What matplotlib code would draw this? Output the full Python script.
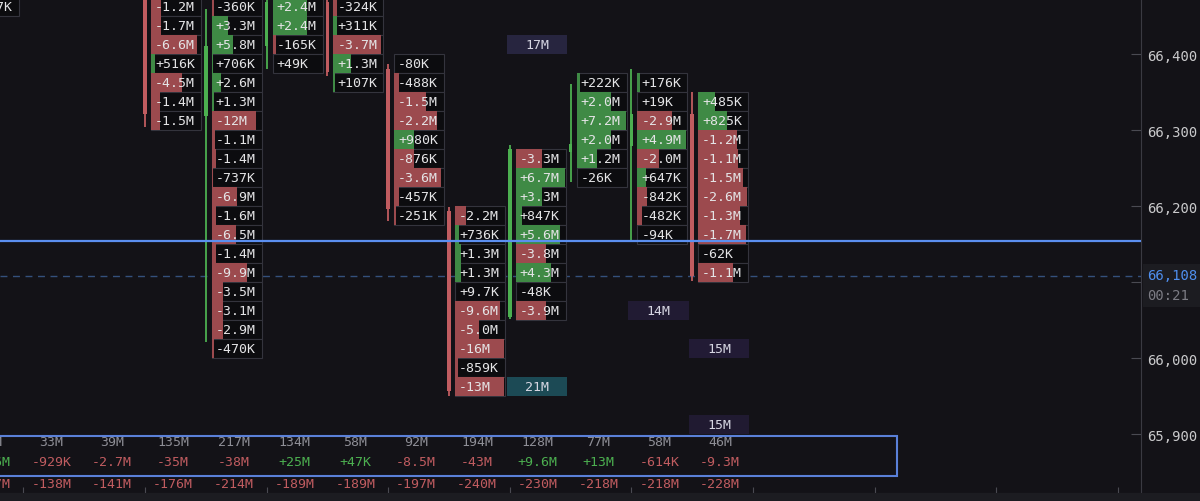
import matplotlib
matplotlib.use("Agg")
import matplotlib.pyplot as plt
from matplotlib.patches import Rectangle
from matplotlib.transforms import blended_transform_factory
import numpy as np

# ---------------- data ----------------
summary_cols = [-1, 0, 1, 2, 3, 4, 5, 6, 7, 8, 9, 10, 11]
col_volume = ["41M", "33M", "39M", "135M", "217M", "134M", "58M", "92M", "194M", "128M", "77M", "58M", "46M"]
col_delta = ["+4.6M", "-929K", "-2.7M", "-35M", "-38M", "+25M", "+47K", "-8.5M", "-43M", "+9.6M", "+13M", "-614K", "-9.3M"]
col_cum = ["-137M", "-138M", "-141M", "-176M", "-214M", "-189M", "-189M", "-197M", "-240M", "-230M", "-218M", "-218M", "-228M"]

candle_cols = [2, 3, 4, 5, 6, 7, 8, 9, 10, 11]
opens = [66500, 66318, 66410, 66468, 66380, 66193, 66054, 66271, 66279, 66321]
highs = [66510, 66459, 66480, 66476, 66387, 66199, 66280, 66360, 66380, 66350]
lows = [66304, 66021, 66380, 66371, 66180, 65950, 66051, 66232, 66153, 66101]
closes = [66321, 66410, 66468, 66376, 66196, 65957, 66275, 66282, 66321, 66108]

cell_cols = [-1, 2, 3, 4, 5, 6, 7, 8, 9, 10, 11]
cell_top = [66462.5, 66462.5, 66462.5, 66462.5, 66462.5, 66387.5, 66187.5, 66262.5, 66362.5, 66362.5, 66337.5]
cell_labels = [
    ["-157K"],
    ["-1.2M", "-1.7M", "-6.6M", "+516K", "-4.5M", "-1.4M", "-1.5M"],
    ["-360K", "+3.3M", "+5.8M", "+706K", "+2.6M", "+1.3M", "-12M", "-1.1M", "-1.4M", "-737K",
     "-6.9M", "-1.6M", "-6.5M", "-1.4M", "-9.9M", "-3.5M", "-3.1M", "-2.9M", "-470K"],
    ["+2.4M", "+2.4M", "-165K", "+49K"],
    ["-324K", "+311K", "-3.7M", "+1.3M", "+107K"],
    ["-80K", "-488K", "-1.5M", "-2.2M", "+980K", "-876K", "-3.6M", "-457K", "-251K"],
    ["-2.2M", "+736K", "+1.3M", "+1.3M", "+9.7K", "-9.6M", "-5.0M", "-16M", "-859K", "-13M"],
    ["-3.3M", "+6.7M", "+3.3M", "+847K", "+5.6M", "-3.8M", "+4.3M", "-48K", "-3.9M"],
    ["+222K", "+2.0M", "+7.2M", "+2.0M", "+1.2M", "-26K"],
    ["+176K", "+19K", "-2.9M", "+4.9M", "-2.0M", "+647K", "-842K", "-482K", "-94K"],
    ["+485K", "+825K", "-1.2M", "-1.1M", "-1.5M", "-2.6M", "-1.3M", "-1.7M", "-62K", "-1.1M"],
]
cell_fill = [
    [0.0],
    [0.2, 0.2, 0.92, 0.08, 0.62, 0.18, 0.18],
    [0.05, 0.32, 0.42, 0.03, 0.18, 0.05, 0.88, 0.06, 0.08, 0.02,
     0.5, 0.08, 0.48, 0.08, 0.7, 0.22, 0.22, 0.22, 0.05],
    [0.68, 0.68, 0.06, 0.0],
    [0.08, 0.08, 0.95, 0.35, 0.03],
    [0.0, 0.1, 0.64, 0.86, 0.4, 0.4, 0.94, 0.1, 0.03],
    [0.22, 0.08, 0.12, 0.12, 0.0, 0.9, 0.48, 0.98, 0.05, 0.98],
    [0.53, 0.98, 0.53, 0.12, 0.88, 0.6, 0.7, 0.0, 0.6],
    [0.06, 0.68, 0.98, 0.68, 0.4, 0.0],
    [0.06, 0.0, 0.7, 0.98, 0.44, 0.17, 0.19, 0.1, 0.0],
    [0.33, 0.57, 0.78, 0.8, 0.9, 0.98, 0.84, 0.95, 0.0, 0.7],
]

marker_cols = [8, 8, 10, 11, 11]
marker_price = [66412.5, 65962.5, 66062.5, 66012.5, 65912.5]
marker_label = ["17M", "21M", "14M", "15M", "15M"]
marker_color = ["#27253f", "#1c4a55", "#211b33", "#221b35", "#201a31"]

price_ticks = [65900, 66000, 66100, 66200, 66300, 66400]
last_price = 66108
line_price = 66154
countdown = "00:21"

# ---------------- style ----------------
BG = "#131217"
CELL_BG = "#0c0c0f"
BORDER = "#34343d"
RED_FILL = "#9c4a4e"
GREEN_FILL = "#3f8a45"
RED_C = "#c05c60"
GREEN_C = "#4caf50"
TXT = "#e4e4e6"
MONO = "DejaVu Sans Mono"
FS = 9.5
ROW = 25.0

fig = plt.figure(figsize=(12, 5.02), dpi=100, facecolor=BG)
ax = fig.add_axes([0, 8 / 502, 1141 / 1200, 494 / 502])
ax.set_facecolor(BG)
PX = 60.8
x0 = -23.4 / PX
ax.set_xlim(x0, x0 + 1141 / PX)
ax.set_ylim(66472.4 - 494 / 0.76, 66472.4)

# bottom band of the figure
fig.patches.append(Rectangle((0, 0), 1, 8 / 502, transform=fig.transFigure,
                             facecolor="#1c1c21", edgecolor="none", zorder=0))

# price lines
ax.axhline(last_price, color="#34507c", lw=1.0, ls=(0, (5, 4)), zorder=1)
ax.axhline(line_price, color="#5b8ff0", lw=1.6, zorder=6)

# candles
for c, o, h, l, cl in zip(candle_cols, opens, highs, lows, closes):
    col = GREEN_C if cl >= o else RED_C
    ax.vlines(c, l, h, color=col, lw=1.3, zorder=4)
    ax.add_patch(Rectangle((c - 0.03, min(o, cl)), 0.06, abs(cl - o),
                           facecolor=col, edgecolor="none", zorder=4))

# footprint cells
for c, top, labs, fills in zip(cell_cols, cell_top, cell_labels, cell_fill):
    for k, (lab, f) in enumerate(zip(labs, fills)):
        p = top - k * ROW
        y0 = p - ROW / 2 + 0.5
        ax.add_patch(Rectangle((c + 0.1, y0), 0.82, ROW - 1.0, facecolor=CELL_BG,
                               edgecolor=BORDER, lw=0.8, zorder=3))
        if f > 0:
            fc = GREEN_FILL if lab.startswith("+") else RED_FILL
            ax.add_patch(Rectangle((c + 0.1, y0), 0.82 * f, ROW - 1.0, facecolor=fc,
                                   edgecolor="none", zorder=3.1))
        ax.text(c + 0.165, p, lab, ha="left", va="center", fontsize=FS,
                family=MONO, color=TXT, zorder=3.5)

# large volume markers
for c, p, lab, col in zip(marker_cols, marker_price, marker_label, marker_color):
    ax.add_patch(Rectangle((c - 0.05, p - ROW / 2), 0.99, ROW, facecolor=col,
                           edgecolor="none", zorder=3))
    ax.text(c + 0.45, p, lab, ha="center", va="center", fontsize=FS,
            family=MONO, color="#d6d6e2", zorder=3.5)

# bottom summary panel
tr = blended_transform_factory(ax.transData, ax.transAxes)
def yf(px):
    return 1 - px / 494.0

ax.add_patch(Rectangle((x0 - 0.3, yf(477)), (897 - 23.4) / PX - x0 + 0.3, yf(437) - yf(477),
                       transform=tr, facecolor="none", edgecolor="#5a80d8", lw=1.5, zorder=7))
for c, v, d, cu in zip(summary_cols, col_volume, col_delta, col_cum):
    xc = c + 0.46
    ax.text(xc, yf(443), v, transform=tr, ha="center", va="center", fontsize=FS,
            family=MONO, color="#8e8e96", zorder=8)
    ax.text(xc, yf(463), d, transform=tr, ha="center", va="center", fontsize=FS,
            family=MONO, color=GREEN_C if d.startswith("+") else RED_C, zorder=8)
    ax.text(xc, yf(485), cu, transform=tr, ha="center", va="center", fontsize=FS,
            family=MONO, color=GREEN_C if cu.startswith("+") else RED_C, zorder=8)

# axes styling
for s in ["top", "left"]:
    ax.spines[s].set_visible(False)
ax.spines["right"].set_color("#3a3a42")
ax.spines["bottom"].set_color("#2c2c33")
ax.yaxis.tick_right()
ax.set_yticks(price_ticks)
ax.set_yticklabels(["" if t == 66100 else f"{t:,}" for t in price_ticks])
ax.tick_params(axis="y", direction="in", length=7, color="#4a4a52",
               labelcolor="#cacacc", labelsize=10, pad=4.5)
for lbl in ax.get_yticklabels():
    lbl.set_family(MONO)
ax.set_xticks(np.arange(0, 19, 2))
ax.tick_params(axis="x", direction="in", length=4, color="#4a4a52", labelbottom=False)

# last price label on the axis
fig.patches.append(Rectangle((1143 / 1200, 1 - 308 / 502), 57 / 1200, 43 / 502,
                             transform=fig.transFigure, facecolor="#1c1c21",
                             edgecolor="none", zorder=5))
fig.text(1147 / 1200, 1 - 276 / 502, f"{last_price:,}", ha="left", va="center",
         fontsize=10, family=MONO, color="#4f8fef", zorder=6)
fig.text(1147 / 1200, 1 - 296 / 502, countdown, ha="left", va="center",
         fontsize=10, family=MONO, color="#7c7c84", zorder=6)

fig.savefig("out.png", dpi=100, facecolor=BG)
